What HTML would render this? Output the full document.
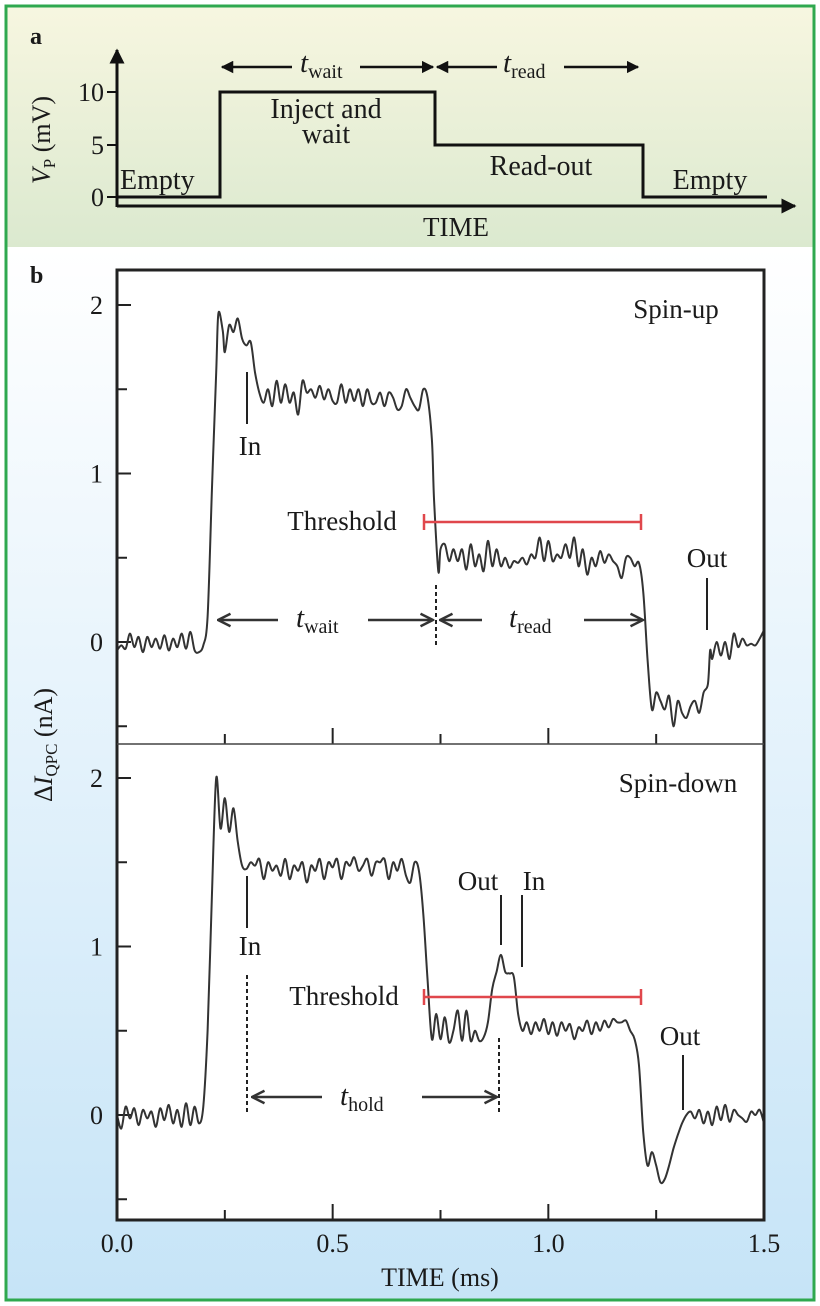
<!DOCTYPE html>
<html><head><meta charset="utf-8">
<style>
html,body{margin:0;padding:0;width:820px;height:1306px;overflow:hidden;background:#fff;font-family:"Liberation Serif","Times New Roman","DejaVu Serif",serif}
text{font-family:"Liberation Serif","Times New Roman","DejaVu Serif",serif;fill:#1a1a1a}
</style></head>
<body>
<svg id="fig" width="820" height="1306" viewBox="0 0 820 1306" xmlns="http://www.w3.org/2000/svg" style="font-family:'Liberation Serif','Times New Roman','DejaVu Serif',serif">
<defs>
<linearGradient id="ga" x1="0" y1="0" x2="0" y2="1"><stop offset="0" stop-color="#f7f6e0"/><stop offset="1" stop-color="#dbe9cf"/></linearGradient>
<linearGradient id="gb" x1="0" y1="0" x2="0" y2="1"><stop offset="0" stop-color="#ffffff"/><stop offset="1" stop-color="#c6e4f7"/></linearGradient>
<marker id="ah" viewBox="0 0 10 10" refX="9" refY="5" markerWidth="5" markerHeight="5" orient="auto-start-reverse"><path d="M0,0 L10,5 L0,10 z" fill="#111"/></marker>
<marker id="oa" viewBox="0 0 12 12" refX="11" refY="6" markerWidth="6" markerHeight="6" orient="auto-start-reverse"><path d="M1,1 L11,6 L1,11" fill="none" stroke="#333" stroke-width="2"/></marker>
</defs>
<rect x="0" y="0" width="820" height="1306" fill="#fff"/>
<rect x="7" y="7" width="806" height="240" fill="url(#ga)"/>
<rect x="7" y="247" width="806" height="1052" fill="url(#gb)"/>
<rect x="6" y="6" width="808" height="1294" fill="none" stroke="#2fa84f" stroke-width="3"/>
<rect x="117" y="270" width="647" height="950" fill="#fff"/>

<g>
<text x="30" y="44" font-size="24" font-weight="bold">a</text>
<line x1="117" y1="207" x2="117" y2="50" stroke="#111" stroke-width="3" marker-end="url(#ah)"/>
<line x1="117" y1="206" x2="795" y2="206" stroke="#111" stroke-width="3" marker-end="url(#ah)"/>
<g font-size="26" text-anchor="end">
<line x1="107" y1="197" x2="117" y2="197" stroke="#111" stroke-width="2"/><text x="104" y="206">0</text>
<line x1="107" y1="145" x2="117" y2="145" stroke="#111" stroke-width="2"/><text x="104" y="154">5</text>
<line x1="107" y1="92" x2="117" y2="92" stroke="#111" stroke-width="2"/><text x="104" y="101">10</text>
</g>
<text transform="translate(50,140) rotate(-90)" text-anchor="middle" font-size="26"><tspan font-style="italic">V</tspan><tspan font-size="17" dy="5">P</tspan><tspan dy="-5"> (mV)</tspan></text>
<polyline points="117,197 220,197 220,92 435,92 435,145 643,145 643,197 767,197" fill="none" stroke="#111" stroke-width="3"/>
<text x="120" y="189" font-size="28">Empty</text>
<text x="326" y="118" font-size="28" text-anchor="middle">Inject and</text>
<text x="326" y="143" font-size="28" text-anchor="middle">wait</text>
<text x="541" y="175" font-size="28" text-anchor="middle">Read-out</text>
<text x="710" y="189" font-size="28" text-anchor="middle">Empty</text>
<text x="456" y="236" font-size="27" text-anchor="middle">TIME</text>
<line x1="222" y1="67" x2="292" y2="67" stroke="#111" stroke-width="2.5" marker-start="url(#ah)"/>
<line x1="360" y1="67" x2="433" y2="67" stroke="#111" stroke-width="2.5" marker-end="url(#ah)"/>
<text x="300" y="72" font-size="29" font-style="italic">t<tspan font-style="normal" font-size="20" dy="6">wait</tspan></text>
<line x1="437" y1="67" x2="497" y2="67" stroke="#111" stroke-width="2.5" marker-start="url(#ah)"/>
<line x1="564" y1="67" x2="638" y2="67" stroke="#111" stroke-width="2.5" marker-end="url(#ah)"/>
<text x="503" y="72" font-size="29" font-style="italic">t<tspan font-style="normal" font-size="20" dy="6">read</tspan></text>
</g>

<text x="30" y="283" font-size="24" font-weight="bold">b</text>
<g id="plots"></g>
</svg>
<script>
const upT=[0,0.01,0.02,0.03,0.04,0.05,0.06,0.07,0.08,0.09,0.10,0.11,0.12,0.13,0.14,0.15,0.16,0.17,0.18,0.19,0.20,0.21,0.22,0.23,0.235,0.245,0.25,0.26,0.27,0.28,0.29,0.30,0.31,0.32,0.33,0.34,0.35,0.36,0.37,0.38,0.39,0.40,0.41,0.42,0.43,0.44,0.45,0.46,0.47,0.48,0.49,0.50,0.51,0.52,0.53,0.54,0.55,0.56,0.57,0.58,0.59,0.60,0.61,0.62,0.63,0.64,0.65,0.66,0.67,0.68,0.69,0.70,0.71,0.72,0.73,0.735,0.745,0.75,0.76,0.77,0.78,0.79,0.80,0.81,0.82,0.83,0.84,0.85,0.86,0.87,0.88,0.89,0.90,0.91,0.92,0.93,0.94,0.95,0.96,0.97,0.98,0.99,1.00,1.01,1.02,1.03,1.04,1.05,1.06,1.07,1.08,1.09,1.10,1.11,1.12,1.13,1.14,1.15,1.16,1.17,1.18,1.19,1.20,1.21,1.22,1.23,1.24,1.25,1.26,1.27,1.28,1.29,1.30,1.31,1.32,1.33,1.34,1.35,1.36,1.37,1.375,1.38,1.39,1.40,1.41,1.42,1.43,1.44,1.45,1.46,1.47,1.48,1.49,1.50];
const upV=[-0.05,-0.02,-0.04,0.05,-0.03,0.03,-0.06,0.03,-0.03,0.02,-0.04,0.04,-0.05,0.02,-0.03,0.05,-0.04,0.06,-0.05,-0.06,-0.02,0.15,0.9,1.6,1.95,1.85,1.72,1.88,1.84,1.92,1.8,1.76,1.78,1.6,1.48,1.42,1.5,1.4,1.55,1.42,1.53,1.42,1.48,1.35,1.55,1.48,1.5,1.45,1.52,1.44,1.5,1.43,1.42,1.53,1.42,1.5,1.43,1.5,1.4,1.5,1.42,1.42,1.48,1.4,1.48,1.45,1.38,1.4,1.5,1.45,1.4,1.38,1.5,1.45,1.2,0.85,0.42,0.55,0.58,0.48,0.55,0.48,0.55,0.43,0.58,0.45,0.52,0.42,0.6,0.45,0.55,0.45,0.5,0.44,0.48,0.47,0.5,0.46,0.52,0.5,0.62,0.48,0.6,0.48,0.52,0.5,0.58,0.5,0.62,0.45,0.55,0.4,0.5,0.45,0.54,0.47,0.52,0.48,0.45,0.38,0.5,0.5,0.45,0.47,0.3,-0.1,-0.4,-0.3,-0.35,-0.4,-0.32,-0.5,-0.35,-0.42,-0.45,-0.38,-0.35,-0.42,-0.3,-0.25,-0.05,-0.1,0.0,-0.08,0.0,-0.1,0.05,-0.03,0.02,-0.02,-0.01,-0.02,0.02,0.07];
const downT=[0,0.01,0.02,0.03,0.04,0.05,0.06,0.07,0.08,0.09,0.10,0.11,0.12,0.13,0.14,0.15,0.16,0.17,0.18,0.19,0.20,0.21,0.22,0.23,0.24,0.25,0.26,0.27,0.28,0.29,0.30,0.31,0.32,0.33,0.34,0.35,0.36,0.37,0.38,0.39,0.40,0.41,0.42,0.43,0.44,0.45,0.46,0.47,0.48,0.49,0.50,0.51,0.52,0.53,0.54,0.55,0.56,0.57,0.58,0.59,0.60,0.61,0.62,0.63,0.64,0.65,0.66,0.67,0.68,0.69,0.70,0.71,0.72,0.73,0.74,0.75,0.76,0.77,0.78,0.79,0.80,0.81,0.82,0.83,0.84,0.85,0.86,0.87,0.88,0.89,0.90,0.91,0.92,0.93,0.94,0.95,0.96,0.97,0.98,0.99,1.00,1.01,1.02,1.03,1.04,1.05,1.06,1.07,1.08,1.09,1.10,1.11,1.12,1.13,1.14,1.15,1.16,1.17,1.18,1.19,1.20,1.21,1.22,1.23,1.24,1.25,1.26,1.27,1.28,1.29,1.30,1.31,1.32,1.33,1.34,1.35,1.36,1.37,1.38,1.39,1.40,1.41,1.42,1.43,1.44,1.45,1.46,1.47,1.48,1.49,1.50];
const downV=[0.0,-0.08,0.05,-0.02,0.04,-0.06,0.03,-0.02,0.02,-0.07,
0.04,-0.03,0.06,-0.05,0.03,-0.07,0.07,-0.06,0.05,-0.05,
0.05,0.5,1.3,2.0,1.7,1.88,1.68,1.82,1.62,1.48,
1.46,1.5,1.48,1.52,1.4,1.5,1.45,1.48,1.42,1.52,
1.4,1.48,1.45,1.5,1.38,1.48,1.45,1.52,1.4,1.5,
1.47,1.52,1.4,1.5,1.48,1.53,1.45,1.48,1.52,1.42,
1.5,1.5,1.52,1.4,1.5,1.45,1.52,1.42,1.38,1.5,
1.45,1.2,0.8,0.45,0.6,0.45,0.58,0.43,0.5,0.62,
0.44,0.62,0.44,0.5,0.44,0.46,0.55,0.75,0.85,0.95,
0.85,0.84,0.82,0.6,0.5,0.55,0.48,0.55,0.5,0.57,
0.48,0.55,0.47,0.55,0.5,0.54,0.45,0.52,0.5,0.56,
0.48,0.55,0.5,0.56,0.52,0.57,0.55,0.55,0.56,0.5,
0.45,0.3,-0.1,-0.3,-0.22,-0.3,-0.4,-0.38,-0.3,-0.2,
-0.12,-0.05,0.0,0.02,-0.02,0.03,-0.05,0.02,-0.06,0.05,
-0.03,0.06,-0.04,0.03,0.0,-0.02,-0.04,0.02,0.0,0.03,-0.05];
const xTicks=[0,0.25,0.5,0.75,1.0,1.25,1.5];
const xLabels=["0.0","0.5","1.0","1.5"];
const yTicks=[-0.5,0,0.5,1,1.5,2];

const NS="http://www.w3.org/2000/svg";
const g=document.getElementById('plots');
const X0=117,X1=764;
const xs=t=>X0+(X1-X0)*t/1.5;
function mk(tag,attrs,parent){const e=document.createElementNS(NS,tag);for(const k in attrs)e.setAttribute(k,attrs[k]);(parent||g).appendChild(e);return e;}
function txt(s,attrs){const e=mk('text',attrs);e.textContent=s;return e;}
function smooth(P){let d='M'+P[0][0].toFixed(1)+','+P[0][1].toFixed(1);
  for(let i=0;i<P.length-1;i++){const p0=P[Math.max(0,i-1)],p1=P[i],p2=P[i+1],p3=P[Math.min(P.length-1,i+2)];
    const c1=[p1[0]+(p2[0]-p0[0])/6,p1[1]+(p2[1]-p0[1])/6],c2=[p2[0]-(p3[0]-p1[0])/6,p2[1]-(p3[1]-p1[1])/6];
    d+=' C'+c1.map(v=>v.toFixed(1)).join(',')+' '+c2.map(v=>v.toFixed(1)).join(',')+' '+p2[0].toFixed(1)+','+p2[1].toFixed(1);}
  return d;}

const panels=[{y0:642,top:270,bot:744,T:upT,V:upV,name:'spin-up'},{y0:1115,top:744,bot:1220,T:downT,V:downV,name:'spin-down'}];
const ups=168.5;
panels.forEach(p=>{
  const ys=v=>p.y0-ups*v;
  yTicks.forEach(v=>{
    const L=Number.isInteger(v)?14:10;
    const t=mk('line',{x1:X0,x2:X0+L,y1:ys(v),y2:ys(v),stroke:'#222','stroke-width':2});
    
    
    if(Number.isInteger(v)&&v>=0){const l=txt(String(v),{x:103,y:ys(v)+9,'font-size':26,'text-anchor':'end'});
      
      }
  });
  xTicks.forEach((t,i)=>{
    const L=(i%2===0)?16:10;
    const tk=mk('line',{x1:xs(t),x2:xs(t),y1:p.bot,y2:p.bot-L,stroke:'#222','stroke-width':2});
    
    
  });
  const P=p.T.map((t,i)=>[xs(t),ys(p.V[i])]);
  const line=mk('path',{d:smooth(P),fill:'none',stroke:'#333','stroke-width':2,'stroke-linejoin':'round'});
  
  
});
const fr=mk('rect',{x:X0,y:270,width:X1-X0,height:950,fill:'none',stroke:'#222','stroke-width':3});


const dv=mk('line',{x1:X0,x2:X1,y1:744,y2:744,stroke:'#444','stroke-width':1.5});


xLabels.forEach((s,i)=>{const l=txt(s,{x:xs(i*0.5),y:1252,'font-size':26,'text-anchor':'middle'});
  
  });
const xt=txt('TIME (ms)',{x:440,y:1286,'font-size':26,'text-anchor':'middle'});


const yt=mk('text',{transform:'translate(52,745) rotate(-90)','text-anchor':'middle','font-size':26});
yt.innerHTML='Δ<tspan font-style="italic">I</tspan><tspan font-size="17" dy="5">QPC</tspan><tspan dy="-5"> (nA)</tspan>';



function ann(s,x,y,name){const e=txt(s,{x:x,y:y,'font-size':27,'text-anchor':'middle'});return e;}
function vl(x,y1,y2,dash){return mk('line',{x1:x,x2:x,y1:y1,y2:y2,stroke:'#222','stroke-width':2,'stroke-dasharray':dash||'none'});}
ann('Spin-up',676,318,'spin-up-label');
ann('Spin-down',678,792,'spin-down-label');
vl(247,372,424);ann('In',250,455,'in-label-up');
vl(707,578,630);ann('Out',707,567,'out-label-up');
vl(247,876,928);ann('In',250,955,'in-label-down');
vl(501,895,945);vl(522,895,967);ann('Out',478,890,'out-label-down');ann('In',534,890,'in-label-down-2');
vl(683,1055,1110);ann('Out',680,1045,'out-label-down-2');
vl(436,585,645,'4,3');vl(247,975,1112,'4,3');vl(499,1038,1112,'4,3');
ann('Threshold',342,530,'threshold-label-up');
ann('Threshold',344,1005,'threshold-label-down');
[522,997].forEach(y=>{
  const l=mk('line',{x1:424,x2:641,y1:y,y2:y,stroke:'#e0474c','stroke-width':2.5});
  
  
  mk('line',{x1:424,x2:424,y1:y-8,y2:y+8,stroke:'#e0474c','stroke-width':2.5});
  mk('line',{x1:641,x2:641,y1:y-8,y2:y+8,stroke:'#e0474c','stroke-width':2.5});
});
function arr(x1,x2,y){mk('line',{x1:x1,x2:x2,y1:y,y2:y,stroke:'#333','stroke-width':2.5,'marker-end':'url(#oa)'});}
arr(278,218,620);arr(368,433,620);arr(482,440,620);arr(584,643,620);
arr(322,252,1097);arr(422,497,1097);
function tl(base,sub,x,y,name){const e=mk('text',{x:x,y:y,'font-size':29,'font-style':'italic'});e.innerHTML=base+'<tspan font-style="normal" font-size="20" dy="6">'+sub+'</tspan>';}
tl('t','wait',296,627,'t-wait-label');
tl('t','read',509,627,'t-read-label');
tl('t','hold',340,1105,'t-hold-label');
</script>
</body></html>
